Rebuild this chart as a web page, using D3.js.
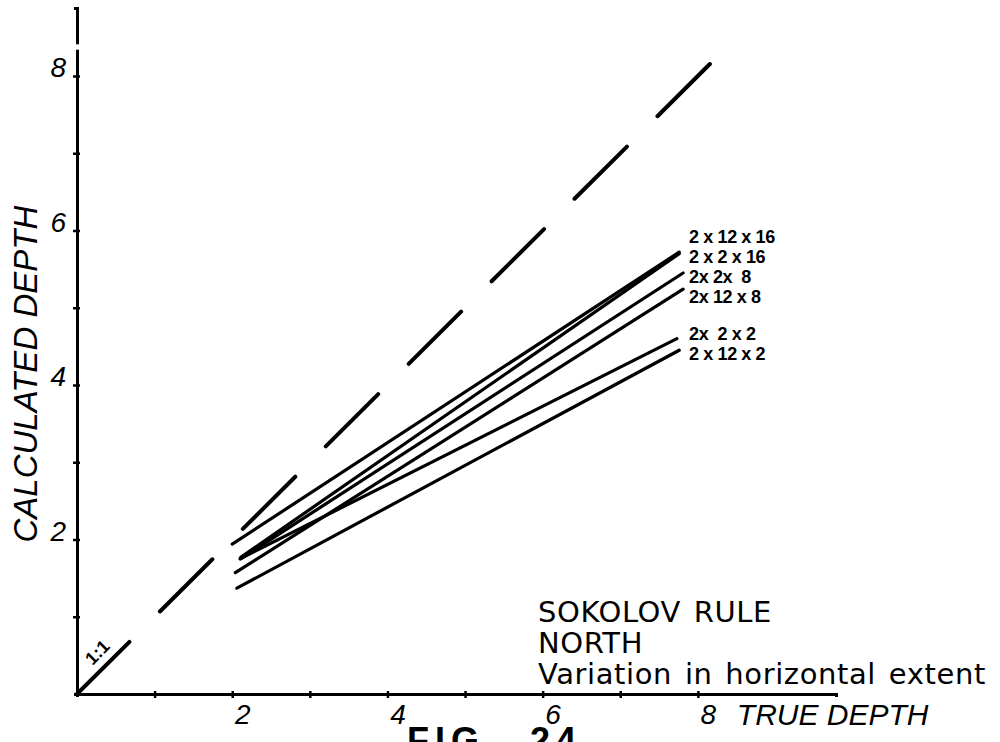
<!DOCTYPE html>
<html>
<head>
<meta charset="utf-8">
<script src="https://cdn.jsdelivr.net/npm/d3@7"></script>
<style>
  html, body { margin: 0; padding: 0; background: #fff; }
  svg { display: block; }
</style>
</head>
<body>
<svg id="chart" width="1000" height="742"></svg>
<script>
// Sokolov rule, north profile: calculated depth against true depth
// for several horizontal extents of the body.
const seriesNames    = ["2 x 12 x 16", "2 x 2 x 16", "2x 2x  8", "2x 12 x 8", "2x  2 x 2", "2 x 12 x 2"];
const trueDepthStart = [2.00, 2.11, 2.11, 2.04, 2.10, 2.06];
const calcDepthStart = [1.94, 1.77, 1.75, 1.57, 1.75, 1.37];
const trueDepthEnd   = [7.76, 7.76, 7.81, 7.81, 7.73, 7.76];
const calcDepthEnd   = [5.72, 5.70, 5.45, 5.24, 4.60, 4.45];

// 1:1 reference line
const identityEnd = 8.18;

// axes
const xTickValues = [1, 2, 3, 4, 5, 6, 7, 8];
const yTickValues = [1, 2, 3, 4, 5, 6, 7, 8];
const tickLabels  = ["", "2", "", "4", "", "6", "", "8"];
const xAxisMax = 9.78;
const yAxisMax = 8.88;

const svg = d3.select("#chart");

const x = d3.scaleLinear().domain([0, xAxisMax]).range([77, 836]);
const y = d3.scaleLinear().domain([0, yAxisMax]).range([694, 8]);

const ink = "#000";
const sans = "'Liberation Sans', Arial, sans-serif";

// ---- axes ----
const xAxis = svg.append("g")
  .attr("transform", `translate(0,${y(0)})`)
  .call(d3.axisBottom(x).tickValues(xTickValues).tickSizeOuter(0).tickSize(3)
        .tickFormat((d, i) => tickLabels[i]));
const yAxis = svg.append("g")
  .attr("transform", `translate(${x(0)},0)`)
  .call(d3.axisLeft(y).tickValues(yTickValues).tickSizeOuter(0).tickSize(3)
        .tickFormat((d, i) => tickLabels[i]));

[xAxis, yAxis].forEach(g => {
  g.select(".domain").attr("stroke", ink).attr("stroke-width", 3);
  g.selectAll(".tick line").attr("stroke", ink).attr("stroke-width", 2.5);
  g.selectAll(".tick text")
    .attr("fill", ink)
    .style("font-family", sans)
    .style("font-style", "italic")
    .style("font-size", "28px");
});
xAxis.selectAll(".tick line").attr("y1", -3).attr("y2", 4);
yAxis.selectAll(".tick line").attr("x1", -4).attr("x2", 3);
xAxis.selectAll(".tick text").attr("x", 10).attr("y", 30).attr("dy", null);
yAxis.selectAll(".tick text").attr("x", -11).attr("y", 1).attr("dy", null);

// small break in the upper part of the vertical axis
svg.append("line")
  .attr("x1", x(0)).attr("x2", x(0))
  .attr("y1", y(8.34)).attr("y2", y(8.41))
  .attr("stroke", "#fff").attr("stroke-width", 5);

// axis titles
svg.append("text")
  .attr("transform", `translate(37,${y(4.14)}) rotate(-90)`)
  .attr("text-anchor", "middle")
  .style("font-family", sans).style("font-style", "italic").style("font-size", "33px")
  .attr("fill", ink)
  .text("CALCULATED DEPTH");

svg.append("text")
  .attr("x", x(8) + 39).attr("y", 725)
  .style("font-family", sans).style("font-style", "italic").style("font-size", "30px")
  .attr("fill", ink)
  .text("TRUE DEPTH");

// ---- 1:1 line ----
svg.append("line")
  .attr("x1", x(0)).attr("y1", y(0))
  .attr("x2", x(identityEnd)).attr("y2", y(identityEnd))
  .attr("stroke", ink).attr("stroke-width", 4)
  .attr("stroke-linecap", "round")
  .attr("stroke-dasharray", "74,43");

svg.append("text")
  .attr("transform", `translate(${x(0.4)},${y(0.4)}) rotate(-45)`)
  .attr("dy", -9)
  .attr("text-anchor", "middle")
  .style("font-family", sans).style("font-size", "18px").style("font-weight", "bold")
  .attr("fill", ink)
  .text("1:1");

// ---- series ----
const lines = seriesNames.map((name, i) => ({
  name,
  x0: trueDepthStart[i], y0: calcDepthStart[i],
  x1: trueDepthEnd[i],   y1: calcDepthEnd[i]
}));

svg.append("g").selectAll("line")
  .data(lines)
  .join("line")
  .attr("x1", d => x(d.x0)).attr("y1", d => y(d.y0))
  .attr("x2", d => x(d.x1)).attr("y2", d => y(d.y1))
  .attr("stroke", ink).attr("stroke-width", 3.2)
  .attr("stroke-linecap", "round");

// line labels: stacked at the right ends, pushed apart so they don't collide
const gap = 20;
const items = lines.map(d => ({ d, target: y(d.y1) })).sort((a, b) => a.target - b.target);
let clusters = items.map(it => ({ members: [it], top: it.target }));
let merged = true;
while (merged) {
  merged = false;
  for (let i = 0; i < clusters.length - 1; i++) {
    const a = clusters[i], b = clusters[i + 1];
    if (a.top + a.members.length * gap > b.top) {
      const members = a.members.concat(b.members);
      const mean = d3.mean(members, m => m.target);
      clusters.splice(i, 2, { members, top: mean - (members.length - 1) * gap / 2 });
      merged = true;
      break;
    }
  }
}
clusters.forEach(c => c.members.forEach((m, k) => { m.pos = c.top + k * gap; }));

const labelX = x(d3.max(trueDepthEnd)) + 6;
svg.append("g").selectAll("text")
  .data(items)
  .join("text")
  .attr("x", labelX)
  .attr("y", m => m.pos + 6)
  .style("font-family", sans).style("font-weight", "bold")
  .style("font-size", "18px").style("letter-spacing", "-0.4px")
  .style("white-space", "pre")
  .attr("fill", ink)
  .text(m => m.d.name);

// ---- caption block ----
const caption = ["SOKOLOV RULE", "NORTH", "Variation in horizontal extent"];
svg.append("g").selectAll("text")
  .data(caption)
  .join("text")
  .attr("x", 538)
  .attr("y", (d, i) => 622 + i * 31)
  .style("font-family", "'DejaVu Sans', sans-serif")
  .style("font-size", "29px")
  .style("letter-spacing", "0.6px")
  .style("word-spacing", "3px")
  .attr("fill", ink)
  .text(d => d);

// figure number, running off the bottom edge
const fig = svg.append("text")
  .attr("y", 753)
  .style("font-family", sans).style("font-size", "36px").style("font-weight", "bold")
  .style("letter-spacing", "6px")
  .attr("fill", ink);
fig.append("tspan").attr("x", 407).text("FIG.");
fig.append("tspan").attr("x", 530).text("24");
</script>
</body>
</html>
